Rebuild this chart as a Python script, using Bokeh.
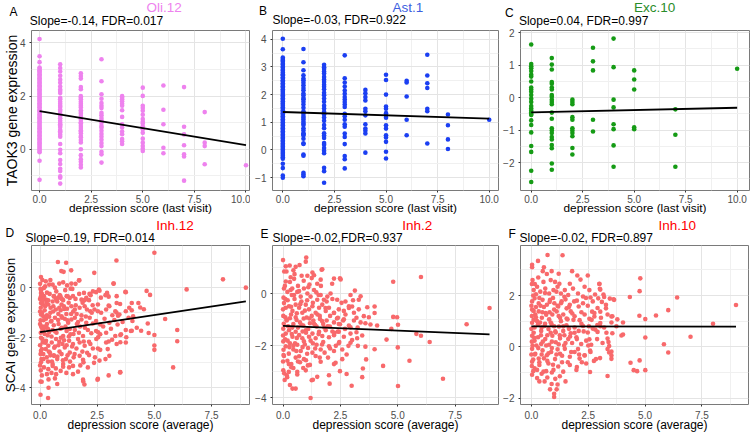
import math
from bokeh.plotting import figure
from bokeh.models import Range1d, FixedTicker, Title
from bokeh.layouts import column, row
from bokeh.embed import file_html
from bokeh.resources import INLINE

FONT = "Liberation Sans"

# ---------------- data ----------------
# Row 1: expression by depression score (last visit), grouped per integer score
oli_scores = [0, 1, 2, 3, 4, 5, 6, 7, 8, 10]
oli_expr = [
    [4.15, 3.5, 3.28, 3.08, 3.03, 2.97, 2.93, 2.88, 2.82, 2.78, 2.72, 2.67, 2.62, 2.57, 2.51, 2.47,
     2.41, 2.36, 2.31, 2.26, 2.2, 2.16, 2.1, 2.05, 2.0, 1.94, 1.89, 1.84, 1.79, 1.73, 1.68, 1.63,
     1.58, 1.52, 1.47, 1.42, 1.37, 1.31, 1.26, 1.21, 1.16, 1.1, 1.05, 1.0, 0.95, 0.89, 0.84, 0.79,
     0.74, 0.68, 0.63, 0.58, 0.53, 0.47, 0.42, 0.37, 0.31, 0.26, 0.21, 0.16, 0.1, 0.05, -0.01,
     -0.06, -0.11, -0.43, -1.15],
    [3.2, 3.06, 2.93, 2.77, 2.62, 2.5, 2.36, 2.25, 2.19, 2.12, 1.94, 1.88, 1.79, 1.71, 1.64, 1.59,
     1.5, 1.44, 1.34, 1.3, 1.25, 1.17, 1.07, 1.0, 0.94, 0.9, 0.84, 0.73, 0.68, 0.63, 0.55, 0.47,
     0.2, -0.02, -0.15, -0.4, -0.55, -0.73, -0.82, -1.02, -1.07, -1.29],
    [2.86, 2.76, 2.66, 2.34, 2.26, 2.0, 1.94, 1.88, 1.79, 1.71, 1.64, 1.57, 1.47, 1.4, 1.34, 1.25,
     1.17, 1.1, 1.02, 0.97, 0.88, 0.8, 0.72, 0.67, 0.6, 0.5, 0.45, 0.35, 0.26, 0.0, -0.22, -0.37,
     -0.47, -0.58, -0.68],
    [3.39, 2.56, 2.07, 1.9, 1.74, 1.64, 1.55, 1.37, 1.28, 1.18, 1.09, 1.0, 0.88, 0.81, 0.7, 0.58,
     0.47, 0.36, 0.24, 0.12, -0.09, -0.19, -0.5],
    [2.0, 1.94, 1.88, 1.81, 1.71, 1.64, 1.47, 1.22, 0.94, 0.82, 0.67, 0.57, 0.39, 0.3, 0.2],
    [2.32, 2.01, 1.64, 1.55, 1.45, 1.3, 1.14, 1.04, 0.97, 0.87, 0.75, 0.62, 0.4, 0.25, 0.12, 0.02, -0.06],
    [2.4, 1.49, 0.94, 0.06, -0.15],
    [2.34, 0.85, 0.56, 0.15, -0.19, -0.27, -1.18],
    [1.4, 0.25, 0.12, -0.56],
    [-0.6],
]
oli_fit_x = [0, 10]
oli_fit_y = [1.44, 0.16]

ast_scores = [0, 1, 2, 3, 4, 5, 6, 7, 8, 10]
ast_expr = [
    [4.02, 3.64, 3.34, 3.29, 3.23, 3.19, 3.12, 3.08, 3.01, 2.97, 2.9, 2.86, 2.8, 2.74, 2.7, 2.63,
     2.58, 2.52, 2.47, 2.41, 2.36, 2.3, 2.26, 2.19, 2.14, 2.09, 2.03, 1.98, 1.92, 1.87, 1.81, 1.76,
     1.7, 1.66, 1.6, 1.54, 1.49, 1.43, 1.38, 1.33, 1.27, 1.22, 1.16, 1.11, 1.05, 1.0, 0.94, 0.89,
     0.83, 0.78, 0.73, 0.67, 0.62, 0.56, 0.51, 0.45, 0.4, 0.34, 0.29, 0.23, 0.18, 0.12, 0.07, 0.01,
     -0.04, -0.1, -0.15, -0.21, -0.27, -0.32, -0.5, -0.66, -0.93, -1.01],
    [3.65, 3.17, 2.88, 2.7, 2.58, 2.52, 2.43, 2.34, 2.24, 2.16, 2.04, 1.98, 1.88, 1.83, 1.74, 1.64,
     1.52, 1.4, 1.32, 1.23, 1.16, 1.1, 1.02, 0.95, 0.9, 0.78, 0.7, 0.6, 0.57, 0.52, 0.4, 0.24, 0.21,
     -0.17, -0.21, -0.83, -0.89, -0.95],
    [3.08, 2.99, 2.93, 2.84, 2.76, 2.64, 2.55, 2.46, 2.36, 2.28, 2.19, 2.07, 1.98, 1.86, 1.74, 1.6,
     1.5, 1.38, 1.28, 1.17, 1.05, 0.9, 0.78, 0.6, 0.52, 0.43, 0.25, 0.19, 0.07, -0.03, -0.12,
     -0.65, -0.77, -1.19],
    [3.42, 2.59, 2.44, 2.29, 2.15, 2.03, 1.91, 1.82, 1.73, 1.64, 1.55, 1.31, 1.22, 1.09, 0.93, 0.84,
     0.59, 0.47, 0.21, -0.22, -0.34, -0.67],
    [2.17, 2.05, 1.91, 1.79, 1.49, 1.4, 1.25, 0.93, 0.77, 0.69, 0.59, -0.1],
    [2.72, 2.53, 2.0, 1.57, 1.49, 1.33, 1.25, 1.16, 0.89, 0.77, 0.53, 0.45, 0.29, -0.07, -0.31],
    [2.5, 2.44, 1.93, 1.09, 0.53],
    [3.44, 2.69, 2.41, 2.24, 1.49, 1.4, 0.23],
    [1.28, 0.89, 0.38, 0.03],
    [1.09],
]
ast_fit_x = [0, 10]
ast_fit_y = [1.37, 1.13]

exc_scores = [0, 1, 2, 3, 4, 5, 7, 10]
exc_expr = [
    [1.64, 1.04, 0.97, 0.91, 0.82, 0.71, 0.65, 0.5, 0.31, 0.25, 0.18, 0.08, -0.03, -0.13, -0.26,
     -0.33, -0.4, -0.46, -0.5, -0.53, -0.7, -0.84, -1.07, -1.49, -1.67, -2.25, -2.6],
    [1.22, 1.02, 0.87, 0.48, 0.43, 0.31, 0.25, 0.08, 0.03, -0.06, -0.13, -0.2, -0.46, -0.65, -0.94,
     -1.01, -1.09, -1.21, -1.29, -1.46, -1.56, -2.03, -2.22],
    [-0.06, -0.13, -0.2, -0.6, -0.68, -0.94, -1.01, -1.09, -1.19, -1.55, -1.75],
    [1.54, 1.12, 0.84, -0.68, -1.04],
    [1.82, 0.94, -0.06, -0.3, -0.82, -0.97, -1.47, -2.13],
    [0.84, 0.56, 0.25, -0.91, -0.97],
    [-0.36, -1.14, -2.13],
    [0.89],
]
exc_fit_x = [0, 10]
exc_fit_y = [-0.45, -0.31]

# Row 2: expression vs depression score (average), (score, expression) pairs
inh12_pts = [
    (5.0, 1.39), (3.34, 1.08), (0.78, 1.02), (1.14, 0.99), (1.36, 0.69), (1.03, 0.63), (0.93, 0.66),
    (0.04, 0.42), (8.0, 0.33), (9.0, 0.0), (6.41, -0.07), (4.66, -0.13), (4.81, -0.29), (3.22, 0.16),
    (2.37, 0.59), (1.72, 0.29), (3.73, -0.17), (3.0, -0.36), (2.93, -0.26), (4.01, -0.9), (4.38, -0.79),
    (4.54, -0.86), (3.41, -1.12), (3.34, -0.99), (4.71, -1.43), (5.47, -1.25), (6.0, -1.69), (6.0, -2.14),
    (5.0, -1.89), (5.0, -2.31), (5.0, -2.48), (4.75, -1.81), (4.42, -1.72), (4.01, -1.72), (3.77, -1.98),
    (3.51, -1.89), (3.51, -2.18), (3.0, -2.15), (2.54, -1.78), (2.54, -1.98), (5.82, -3.18), (3.51, -3.37),
    (3.0, -3.5), (2.51, -3.67), (1.94, -3.86), (1.89, -3.74), (0.37, -3.66), (0.37, -3.99), (0.02, -3.74),
    (0.02, -4.27), (0.35, -4.4),
    (0.22, 0.05), (0.17, -0.01), (0.4, 0.12), (0.55, 0.12), (0.84, 0.16), (1.01, 0.21), (1.18, 0.09),
    (1.37, 0.16), (1.55, 0.15), (1.7, 0.29), (1.34, -0.04), (2.31, -0.15), (1.92, -0.21), (2.21, -0.3),
    (2.57, -0.08), (2.45, -0.18), (2.93, -0.21), (2.86, -0.3), (3.21, 0.16), (2.6, -0.12),
    (0.04, -0.21), (0.04, -0.34), (0.17, -0.34), (0.26, -0.48), (0.36, -0.5), (0.61, -0.34), (0.69, -0.45),
    (0.79, -0.41), (0.89, -0.34), (1.01, -0.5), (1.16, -0.34), (1.3, -0.41), (1.44, -0.34), (1.55, -0.45),
    (1.81, -0.48), (1.95, -0.5), (2.02, -0.41), (2.14, -0.5), (2.53, -0.67), (3.0, -0.71), (3.35, -0.34),
    (3.35, -0.61), (3.5, -0.65), (3.75, -0.18), (4.01, -0.61), (4.3, -0.61),
    (0.04, -0.61), (0.12, -0.67), (0.22, -0.74), (0.36, -0.67), (0.46, -0.8), (0.58, -0.74), (0.69, -0.87),
    (0.84, -0.8), (0.94, -0.67), (1.04, -0.74), (1.18, -0.84), (1.37, -0.74), (1.52, -0.87), (1.73, -0.8),
    (1.95, -0.74), (2.05, -0.87), (2.2, -0.94), (2.38, -0.87), (2.53, -0.94), (2.67, -1.0), (2.89, -0.87),
    (3.03, -0.74), (3.29, -0.94), (3.47, -1.07), (3.75, -0.94), (3.9, -0.8), (4.07, -1.14),
    (0.04, -1.07), (0.14, -1.14), (0.26, -1.24), (0.4, -1.16), (0.5, -1.33), (0.65, -1.2), (0.79, -1.29),
    (0.94, -1.14), (1.08, -1.24), (1.23, -1.4), (1.37, -1.27), (1.52, -1.2), (1.66, -1.37), (1.81, -1.27),
    (2.02, -1.4), (2.17, -1.2), (2.31, -1.43), (2.45, -1.33), (2.63, -1.47), (2.82, -1.24), (3.03, -1.4),
    (3.25, -1.29), (3.39, -1.47), (3.61, -1.37), (3.87, -1.2), (4.04, -1.33),
    (0.04, -1.53), (0.14, -1.66), (0.29, -1.6), (0.4, -1.77), (0.55, -1.69), (0.72, -1.8), (0.9, -1.64),
    (1.01, -1.93), (1.16, -1.73), (1.33, -1.86), (1.52, -1.69), (1.7, -1.8), (1.88, -1.93), (2.09, -1.69),
    (2.24, -1.82), (2.45, -1.73), (2.63, -1.86), (2.89, -1.8), (3.1, -1.64), (3.29, -1.93), (3.54, -1.86),
    (3.75, -1.69), (3.97, -1.73), (4.23, -1.6),
    (0.04, -2.0), (0.12, -2.19), (0.26, -2.12), (0.36, -2.32), (0.51, -2.19), (0.65, -2.35), (0.84, -2.16),
    (0.98, -2.25), (1.08, -2.39), (1.27, -2.12), (1.44, -2.25), (1.59, -2.43), (1.73, -2.19), (1.95, -2.32),
    (2.14, -2.16), (2.31, -2.43), (2.53, -2.43), (2.63, -2.48), (2.89, -2.19), (3.15, -2.08), (3.35, -2.25),
    (3.75, -2.19),
    (0.04, -2.52), (0.14, -2.65), (0.29, -2.78), (0.43, -2.59), (0.61, -2.72), (0.75, -2.85), (0.94, -2.65),
    (1.13, -2.85), (1.3, -2.59), (1.47, -2.78), (1.73, -2.72), (1.88, -2.88), (2.14, -2.69), (2.4, -2.78),
    (2.6, -2.91), (2.86, -2.85), (3.03, -2.72),
    (0.04, -2.98), (0.17, -3.18), (0.36, -3.25), (0.55, -3.12), (0.69, -3.22), (0.9, -3.32), (1.01, -3.05),
    (1.27, -3.18), (1.44, -3.12), (1.66, -3.35), (1.9, -2.98), (2.09, -3.18), (1.01, -3.15),
    (0.07, -3.75), (0.65, -3.62), (0.75, -3.84), (1.44, -3.45), (1.88, -3.67), (2.53, -3.64), (3.5, -3.38),
    (0.0, 0.15), (0.02, -0.05), (0.0, -0.45), (0.03, -0.8), (0.0, -0.95), (0.02, -1.3), (0.0, -1.45),
    (0.03, -1.8), (0.0, -2.3), (0.02, -2.65), (0.0, -3.1), (0.03, -3.3), (0.08, -0.25), (0.09, -1.0),
    (0.1, -1.75), (0.08, -2.45), (0.1, -0.55), (0.07, -1.6), (0.1, -2.05), (0.06, -2.85),
    (0.2, -0.9), (0.3, -1.45), (0.45, -1.0), (0.5, -1.95), (0.6, -1.5), (0.7, -2.05), (0.8, -1.05),
    (0.85, -2.55), (0.95, -1.6), (1.05, -2.1), (1.15, -1.05), (1.2, -2.7), (1.25, -0.6), (1.3, -1.65),
    (1.4, -2.35), (1.45, -0.95), (0.25, -2.45), (0.35, -2.95), (0.55, -3.05), (0.6, -0.35), (0.3, -0.2),
    (0.75, -0.55), (0.95, -0.45), (1.1, -0.1), (0.2, -1.85), (0.45, -2.7), (1.6, -1.05), (1.75, -1.55),
    (1.85, -2.55), (2.0, -1.15), (2.2, -2.25), (2.3, -0.7),
    (0.05, -0.1), (0.12, -0.45), (0.18, -1.55), (0.24, -2.2), (0.28, -0.6), (0.33, -1.9), (0.38, -2.55),
    (0.42, -0.25), (0.47, -1.35), (0.52, -2.95), (0.57, -0.95), (0.62, -2.4), (0.66, -1.75), (0.71, -0.15),
    (0.76, -2.75), (0.81, -1.45), (0.86, -0.3), (0.91, -2.0), (0.96, -1.2), (1.0, -2.9), (1.06, -0.85),
    (1.11, -1.55), (1.16, -2.3), (1.21, -0.35), (1.26, -1.95), (1.31, -2.95), (1.36, -1.05), (1.41, -0.05),
    (1.46, -1.85), (1.51, -2.65), (1.56, -0.7), (1.61, -1.45), (1.66, -2.05), (1.71, -0.25), (1.76, -3.1),
    (1.81, -1.1), (1.86, -0.6), (1.91, -2.15), (1.96, -1.6), (2.06, -2.6), (2.16, -0.25), (2.26, -1.0),
    (2.36, -3.0), (2.46, -2.05), (2.66, -0.4), (2.76, -1.55), (2.96, -2.45), (3.16, -1.1), (0.08, -3.5),
    (0.15, -2.85), (0.3, -3.45), (0.5, -3.4), (0.7, -3.45), (0.1, 0.3), (0.25, 0.25), (0.45, 0.3),
    (0.65, 0.0), (0.3, -1.1), (0.55, -0.55), (0.8, -2.3), (0.15, -1.3), (0.35, -1.65), (0.6, -2.7),
    (0.9, -0.9), (1.2, -1.3), (1.15, -3.4),
]
inh12_fit_x = [0, 9]
inh12_fit_y = [-1.77, -0.55]

inh2_pts = [
    (0.0, 1.29), (1.01, 1.39), (0.99, 1.23), (2.51, 0.55), (4.8, 0.46), (6.01, 0.64), (4.97, -0.9),
    (5.01, -1.19), (8.0, -1.17), (9.0, -0.55), (5.81, -1.54), (6.01, -1.61), (6.39, -1.85), (4.51, -1.76),
    (5.0, -2.06), (4.36, -2.77), (5.51, -2.57), (6.97, -3.26), (5.01, -3.54), (3.62, -2.52), (3.48, -2.87),
    (3.45, -3.2), (2.99, -3.53), (2.77, -3.08), (2.48, -2.97), (2.29, -2.65), (2.03, -3.45), (1.2, -4.0),
    (1.25, -3.32), (3.38, -0.1), (3.67, -0.52), (3.99, -0.49), (3.99, -0.74), (3.74, -0.9), (3.52, -0.86),
    (3.2, -0.92), (3.01, -0.49), (2.87, -0.55), (2.65, -0.98), (2.94, -1.29), (3.01, -1.78), (2.94, -1.88),
    (3.26, -2.0), (3.59, -2.03), (3.99, -2.13), (4.72, -1.35), (4.8, -0.89), (3.2, -1.48), (2.39, -1.45),
    (2.48, -1.17), (2.39, -0.92), (2.22, -0.74), (2.72, -0.8), (3.13, 0.12), (1.68, 0.92), (2.22, 0.58),
    (0.29, 1.08), (0.55, 1.03), (0.81, 0.69), (1.28, 0.81), (1.35, 0.71), (1.64, 0.54), (1.49, 0.38),
    (2.14, 0.38), (2.48, 0.59), (1.71, 0.94), (1.06, 0.69), (0.33, 0.63), (0.12, 0.47), (0.48, 0.57),
    (0.04, 0.2), (0.19, 0.07), (0.33, 0.14), (0.48, -0.05), (0.62, 0.07), (0.77, -0.11), (0.91, 0.2),
    (1.06, 0.01), (1.2, -0.11), (1.35, 0.14), (1.49, -0.23), (1.64, -0.05), (1.78, -0.23), (1.93, -0.11),
    (2.07, 0.01), (2.36, -0.23), (2.72, -0.3), (2.94, -0.05), (3.3, -0.23),
    (0.04, -0.36), (0.12, -0.54), (0.26, -0.48), (0.41, -0.66), (0.55, -0.42), (0.7, -0.54), (0.84, -0.73),
    (0.99, -0.42), (1.13, -0.6), (1.28, -0.48), (1.42, -0.73), (1.57, -0.54), (1.71, -0.42), (1.86, -0.66),
    (2.0, -0.54), (2.22, -0.73), (2.43, -0.6), (2.65, -0.66), (2.87, -0.48), (3.09, -0.73), (3.3, -0.6),
    (0.01, -0.85), (0.16, -1.03), (0.3, -0.94), (0.45, -1.16), (0.59, -1.01), (0.74, -1.1), (0.88, -1.22),
    (1.03, -0.91), (1.17, -1.13), (1.32, -1.03), (1.46, -1.26), (1.61, -0.97), (1.75, -1.16), (1.9, -1.03),
    (2.04, -1.26), (2.22, -1.1), (2.43, -1.16), (2.62, -1.03), (2.87, -1.22), (3.09, -1.03), (3.38, -1.1),
    (3.59, -1.13), (3.81, -1.18), (4.1, -1.22),
    (0.01, -1.34), (0.12, -1.53), (0.26, -1.4), (0.41, -1.65), (0.55, -1.46), (0.7, -1.59), (0.84, -1.71),
    (0.99, -1.4), (1.13, -1.65), (1.28, -1.53), (1.42, -1.71), (1.57, -1.46), (1.71, -1.62), (1.86, -1.4),
    (2.0, -1.67), (2.22, -1.59), (2.43, -1.46), (2.65, -1.65), (2.94, -1.53), (3.23, -1.71),
    (0.01, -1.83), (0.12, -2.02), (0.3, -1.9), (0.45, -2.14), (0.62, -1.96), (0.77, -2.2), (0.91, -1.83),
    (1.09, -2.08), (1.28, -2.26), (1.46, -1.96), (1.64, -2.14), (1.81, -2.26), (2.0, -2.02), (2.22, -2.2),
    (2.43, -1.9), (2.58, -2.14), (2.77, -2.33),
    (0.04, -2.39), (0.19, -2.57), (0.36, -2.7), (0.55, -2.45), (0.74, -2.63), (0.91, -2.51), (1.17, -2.73),
    (1.42, -2.39), (1.64, -2.61), (1.96, -2.45), (2.22, -2.7), (2.58, -2.51),
    (0.01, -2.94), (0.16, -3.13), (0.36, -2.82), (0.62, -3.0), (0.99, -2.94), (1.49, -3.19), (2.0, -3.13),
    (0.07, -3.31), (0.3, -3.5), (0.41, -3.64), (0.55, -3.64),
    (0.02, -0.15), (0.0, -0.6), (0.03, -1.15), (0.0, -1.6), (0.02, -2.15), (0.0, -2.6), (0.08, 0.3),
    (0.1, -0.9), (0.09, -1.75), (0.2, -0.25), (0.22, -1.25), (0.25, -2.3), (0.35, -0.8), (0.38, -1.55),
    (0.4, 0.2), (0.5, -0.2), (0.52, -1.9), (0.6, -0.75), (0.65, -1.3), (0.7, -2.4), (0.8, -0.3),
    (0.85, -1.45), (0.9, -0.95), (0.95, -1.95), (1.05, -0.25), (1.1, -1.35), (1.15, 0.35), (1.25, -0.85),
    (1.3, -1.9), (1.4, -1.2), (1.55, -0.05), (1.6, -0.85), (1.7, -1.95), (1.8, -1.3), (1.9, -0.3),
    (2.05, -0.85), (2.15, -1.45), (2.3, -2.0), (0.15, 0.85), (0.65, 0.3), (0.45, -2.85), (0.25, -3.0),
    (1.0, -2.55), (1.3, -3.3),
    (0.05, 0.85), (0.1, -0.2), (0.15, -1.0), (0.2, -1.8), (0.25, -2.7), (0.3, 0.45), (0.35, -0.5),
    (0.4, -1.3), (0.45, -2.0), (0.5, 0.75), (0.55, -0.9), (0.6, -1.7), (0.65, -2.6), (0.7, 0.1),
    (0.75, -0.4), (0.8, -1.2), (0.85, -2.05), (0.9, 0.5), (0.95, -0.65), (1.0, -1.5), (1.05, -2.3),
    (1.1, 0.25), (1.15, -0.95), (1.2, -1.8), (1.25, 0.6), (1.3, -0.35), (1.35, -1.15), (1.4, -2.1),
    (1.45, 0.05), (1.5, -0.8), (1.55, -1.55), (1.6, -2.45), (1.65, 0.3), (1.7, -1.05), (1.75, -1.85),
    (1.85, -0.55), (1.95, -1.25), (2.05, -2.1), (2.15, -0.2), (2.25, -1.5), (2.35, -0.95), (2.45, -1.85),
    (2.55, -0.35), (2.7, -1.35), (2.85, -2.0), (3.05, -0.25), (3.25, -1.3), (3.45, -1.6), (0.02, -2.35),
    (0.05, -3.05), (0.12, 1.05), (0.18, -3.2), (0.28, -2.05), (0.45, 0.9), (0.62, -3.1), (0.72, 1.1),
    (0.88, -2.85), (1.08, -2.75), (0.58, -2.2), (0.38, -0.05),
]
inh2_fit_x = [0, 9]
inh2_fit_y = [-1.23, -1.56]

inh10_pts = [
    (9.0, 1.63), (7.99, 0.9), (7.0, 0.39), (6.41, 1.92), (6.02, 1.43), (5.48, 1.22), (5.01, 1.08),
    (5.01, 0.36), (5.83, 0.1), (6.02, -0.22), (5.01, -0.91), (4.65, -0.95), (4.5, -0.91), (4.76, -0.53),
    (4.36, -0.62), (4.33, 1.94), (4.76, 2.17), (4.79, 2.67), (4.75, 1.21), (4.03, 0.95), (4.03, 0.48),
    (3.96, 0.44), (3.74, 0.8), (3.61, 1.85), (3.52, 1.18), (3.52, 0.95), (3.52, -0.19), (3.52, -0.34),
    (3.52, -0.47), (3.35, -1.14),
    (2.99, 2.45), (3.01, 2.26), (3.2, 1.94), (2.6, 1.92), (2.67, 1.37), (2.77, 1.18), (3.03, 1.37),
    (3.03, 0.93), (3.03, 0.8), (2.81, 0.67), (2.53, 0.8), (2.55, 0.29), (2.58, -0.15), (2.58, -0.98),
    (2.34, -0.34), (2.22, -0.6), (2.05, -0.09), (2.0, -0.79), (3.02, -0.44), (3.35, 0.32), (3.39, 0.19),
    (3.35, -0.09), (3.42, -0.22), (3.28, 1.5), (3.45, 1.88),
    (0.71, 3.58), (1.37, 3.57), (0.03, 3.2), (0.03, 3.1), (0.29, 3.35), (0.89, 2.95), (0.68, 2.84),
    (1.79, 2.95), (2.02, 2.78), (2.48, 2.78), (2.16, 2.62), (0.53, 2.53), (1.04, 2.53), (1.23, 2.46),
    (1.69, 2.46), (2.99, 2.46), (3.03, 2.23), (3.64, 1.83), (2.55, 2.21), (2.34, 2.34), (2.8, 2.04),
    (3.17, 2.04), (2.94, 1.89),
    (0.1, 2.21), (0.25, 2.34), (0.39, 2.15), (0.61, 2.27), (0.78, 2.08), (0.97, 2.21), (1.15, 2.34),
    (1.3, 2.08), (1.47, 2.21), (1.62, 2.02), (1.83, 2.27), (2.05, 2.08), (2.27, 1.96),
    (0.03, 1.77), (0.14, 1.89), (0.32, 1.7), (0.49, 1.83), (0.68, 1.64), (0.82, 1.83), (1.01, 1.7),
    (1.18, 1.57), (1.33, 1.77), (1.5, 1.85), (1.69, 1.64), (1.88, 1.77), (2.08, 1.57), (2.27, 1.7),
    (2.48, 1.6), (2.7, 1.77), (2.91, 1.51), (3.28, 1.64),
    (0.03, 1.45), (0.17, 1.26), (0.32, 1.38), (0.46, 1.13), (0.63, 1.32), (0.78, 1.07), (0.92, 1.26),
    (1.11, 1.38), (1.26, 1.13), (1.4, 1.26), (1.59, 1.07), (1.73, 1.38), (1.9, 1.19), (2.12, 1.04),
    (2.34, 1.26), (2.55, 1.09), (2.77, 1.32), (3.06, 1.13), (3.35, 1.26), (3.56, 1.19), (3.78, 1.07),
    (0.03, 0.94), (0.14, 0.75), (0.29, 0.88), (0.43, 0.62), (0.58, 0.81), (0.75, 0.69), (0.89, 0.88),
    (1.07, 0.56), (1.21, 0.79), (1.4, 0.62), (1.54, 0.84), (1.73, 0.53), (1.9, 0.75), (2.08, 0.62),
    (2.27, 0.81), (2.48, 0.56), (2.7, 0.71), (2.91, 0.58), (3.2, 0.75), (3.56, 0.53),
    (0.03, 0.43), (0.14, 0.24), (0.29, 0.37), (0.43, 0.11), (0.61, 0.3), (0.78, 0.08), (0.92, 0.43),
    (1.07, 0.18), (1.26, 0.33), (1.44, 0.05), (1.62, 0.3), (1.79, 0.15), (1.98, 0.37), (2.19, 0.11),
    (2.41, 0.24), (2.63, 0.08), (2.89, 0.3), (3.13, 0.15), (3.42, 0.03),
    (0.03, -0.08), (0.17, -0.27), (0.32, -0.46), (0.49, -0.14), (0.68, -0.33), (0.87, -0.2), (1.04, -0.48),
    (1.26, -0.27), (1.47, -0.08), (1.69, -0.39), (1.9, -0.2), (2.12, -0.46), (2.34, -0.33), (2.6, -0.2),
    (2.84, -0.48),
    (0.03, -0.58), (0.14, -0.84), (0.35, -0.71), (0.53, -0.97), (0.75, -0.65), (0.97, -0.9), (1.18, -0.77),
    (1.4, -0.97), (1.69, -0.71), (1.98, -0.9), (2.41, -0.65),
    (0.03, -1.09), (0.25, -1.22), (0.58, -1.35), (0.89, -1.45), (1.15, -1.47), (0.82, -1.66), (1.11, -1.66),
    (1.0, -1.83), (1.0, -1.96), (1.5, -1.35),
    (0.0, 1.6), (0.02, 1.2), (0.0, 0.7), (0.02, 0.2), (0.0, -0.3), (0.02, -0.75), (0.08, 2.0), (0.1, 1.05),
    (0.1, 0.55), (0.08, -0.5), (0.2, 1.55), (0.22, 0.05), (0.25, -0.9), (0.35, 1.9), (0.38, 0.95),
    (0.42, 0.45), (0.45, -0.3), (0.55, 1.55), (0.6, 0.9), (0.65, 0.05), (0.7, -0.55), (0.8, 1.35),
    (0.85, 0.55), (0.9, -0.05), (0.95, 1.9), (1.0, 0.8), (1.1, -0.3), (1.15, 1.6), (1.2, 0.1), (1.3, 1.0),
    (1.35, -0.6), (1.45, 0.45), (1.55, 1.5), (1.65, 0.7), (1.75, -0.2), (1.85, 1.05), (2.0, 0.3),
    (2.2, 0.9), (0.15, 2.45), (0.5, 2.95), (0.45, -1.05), (0.7, -1.2), (0.9, -1.0), (1.25, -1.15),
    (0.05, 2.6), (0.1, 1.4), (0.12, 0.35), (0.15, -0.3), (0.2, 2.05), (0.25, 1.0), (0.3, -0.05),
    (0.35, -0.6), (0.4, 1.6), (0.45, 0.75), (0.5, 0.2), (0.55, -0.45), (0.6, 2.1), (0.65, 1.25),
    (0.7, 0.45), (0.75, -0.25), (0.8, 1.75), (0.85, 0.95), (0.9, 0.2), (0.95, -0.7), (1.0, 1.45),
    (1.05, 0.6), (1.1, 2.15), (1.15, -0.1), (1.2, 1.2), (1.25, 0.45), (1.3, 1.7), (1.35, -0.35),
    (1.4, 0.8), (1.45, 1.95), (1.5, 0.15), (1.55, 1.1), (1.6, -0.6), (1.65, 1.55), (1.7, 0.4),
    (1.8, 1.3), (1.9, 0.55), (2.0, 1.8), (2.1, -0.3), (2.2, 1.35), (2.3, 0.6), (2.4, 1.9), (2.5, 0.05),
    (2.65, 1.05), (2.75, -0.55), (2.9, 0.85), (3.1, 1.75), (3.3, 0.55), (0.02, 2.45), (0.05, 0.05),
    (0.08, -0.95), (0.3, 2.7), (0.55, 3.1), (0.85, 2.6), (1.2, 2.85), (0.35, -1.35), (0.65, -0.95),
    (1.05, -1.25), (0.2, 1.15), (0.48, 1.35),
]
inh10_fit_x = [0, 9]
inh10_fit_y = [0.8, 0.79]

# tick values and labels
last_ticks = [0, 2.5, 5, 7.5, 10]
last_minor = [1.25, 3.75, 6.25, 8.75]
last_labels = ["0.0", "2.5", "5.0", "7.5", "10.0"]
avg_ticks = [0, 2.5, 5, 7.5]
avg_minor = [1.25, 3.75, 6.25, 8.75]
avg_labels = ["0.0", "2.5", "5.0", "7.5"]

oli_yticks, oli_yminor = [0, 2, 4], [-1, 1, 3]
ast_yticks, ast_yminor = [-1, 0, 1, 2, 3, 4], [-0.5, 0.5, 1.5, 2.5, 3.5]
exc_yticks, exc_yminor = [-2, -1, 0, 1, 2], [-2.5, -1.5, -0.5, 0.5, 1.5]
inh12_yticks, inh12_yminor = [-4, -2, 0], [-3, -1, 1]
inh2_yticks, inh2_yminor = [-4, -2, 0], [-3, -1, 1]
inh10_yticks, inh10_yminor = [-2, 0, 2], [-1, 1, 3]


def expand(scores, groups):
    xs, ys = [], []
    for s, g in zip(scores, groups):
        xs += [s] * len(g)
        ys += list(g)
    return xs, ys


def unzip(pts):
    return [a for a, b in pts], [b for a, b in pts]


def make_panel(s):
    xs, ys = s["data"]
    xr, yr = s["xr"], s["yr"]
    bord = s["b"]
    p = figure(width=s["w"], height=s["h"], x_range=Range1d(xr[0], xr[1]), y_range=Range1d(yr[0], yr[1]),
               output_backend="svg", toolbar_location=None, title=None,
               min_border_left=bord[0], min_border_right=bord[1],
               min_border_top=bord[2], min_border_bottom=bord[3],
               background_fill_color="white", border_fill_color="white")
    p.outline_line_color = "#7a7a7a"
    p.outline_line_width = 1
    xtk = FixedTicker(ticks=s["xt"], minor_ticks=s["xmn"])
    ytk = FixedTicker(ticks=s["yt"], minor_ticks=s["ymn"])
    p.xaxis.ticker = xtk
    p.yaxis.ticker = ytk
    p.xgrid.ticker = xtk
    p.ygrid.ticker = ytk
    for g in (p.xgrid[0], p.ygrid[0]):
        g.grid_line_color = "#E4E4E4"
        g.grid_line_width = 1
        g.minor_grid_line_color = "#F0F0F0"
        g.minor_grid_line_width = 1
    p.xaxis.major_label_overrides = {float(t): l for t, l in zip(s["xt"], s["xl"])}
    for ax in (p.xaxis[0], p.yaxis[0]):
        ax.axis_line_color = None
        ax.major_tick_line_color = "#333333"
        ax.major_tick_out = 2
        ax.major_tick_in = 0
        ax.minor_tick_line_color = None
        ax.major_label_text_font = FONT
        ax.major_label_text_font_size = "10px"
        ax.major_label_text_color = "#4D4D4D"
        ax.axis_label_text_font = FONT
        ax.axis_label_text_font_style = "normal"
        ax.axis_label_text_color = "black"
    xo = s["xaxis"]
    p.xaxis.major_label_standoff = xo[1]
    p.yaxis.major_label_standoff = 2
    p.xaxis.axis_label = s["xtitle"]
    p.xaxis.axis_label_text_font_size = xo[0]
    p.xaxis.axis_label_standoff = xo[2]
    if s["ytitle"]:
        p.yaxis.axis_label = s["ytitle"][0]
        p.yaxis.axis_label_text_font_size = s["ytitle"][1]
        p.yaxis.axis_label_standoff = s["ytitle"][2]
    # marks
    p.scatter(xs, ys, size=4.6, fill_color=s["color"], line_color=None)
    p.line(s["fx"], s["fy"], line_color="black", line_width=1.8)
    # header texts, stacked outwards from the frame
    st, sdx, sso = s["stat"]
    lt, ldx, lso = s["letter"]
    ct, cc, cdx, cso = s["cell"]
    p.add_layout(Title(text=st, align="left", vertical_align="top", offset=sdx, standoff=sso,
                       text_font=FONT, text_font_size="12px", text_font_style="normal",
                       text_color="black"), "above")
    p.add_layout(Title(text=lt, align="left", vertical_align="bottom", offset=ldx, standoff=lso,
                       text_font=FONT, text_font_size="12px", text_font_style="normal",
                       text_color="black"), "above")
    p.add_layout(Title(text=ct, align="left", vertical_align="bottom", offset=cdx, standoff=cso,
                       text_font=FONT, text_font_size="13.5px", text_font_style="normal",
                       text_color=cc), "above")
    return p


row1_x = ("11.8px", 0, -5)
row2_x = ("12px", 2, -4)

specs = [
    dict(data=expand(oli_scores, oli_expr), color="#EE82EE", xr=(-0.39, 10.17), yr=(-1.55, 4.47),
         yt=oli_yticks, ymn=oli_yminor, xt=last_ticks, xmn=last_minor, xl=last_labels,
         fx=oli_fit_x, fy=oli_fit_y, w=250, h=217, b=(25, 1, 30, 25),
         stat=("Slope=-0.14, FDR=0.017", -1.7, 2.32), letter=("A", -22, -13.92),
         cell=("Oli.12", "#EE82EE", 115, -8.12), xaxis=row1_x,
         xtitle="depression score (last visit)", ytitle=("TAOK3 gene expression", "14px", -3)),
    dict(data=expand(ast_scores, ast_expr), color="#1B3FF2", xr=(-0.5, 10.45), yr=(-1.47, 4.32),
         yt=ast_yticks, ymn=ast_yminor, xt=last_ticks, xmn=last_minor, xl=last_labels,
         fx=ast_fit_x, fy=ast_fit_y, w=250, h=217, b=(22, 2, 30, 26),
         stat=("Slope=-0.03, FDR=0.922", 0, 1.52), letter=("B", -13.4, -11.92),
         cell=("Ast.1", "#3D5FE0", 120, -13.52), xaxis=row1_x,
         xtitle="depression score (last visit)", ytitle=None),
    dict(data=expand(exc_scores, exc_expr), color="#159B15", xr=(-0.52, 10.6), yr=(-2.86, 2.07),
         yt=exc_yticks, ymn=exc_yminor, xt=last_ticks, xmn=last_minor, xl=last_labels,
         fx=exc_fit_x, fy=exc_fit_y, w=250, h=217, b=(18, 1, 30, 25),
         stat=("Slope=0.04, FDR=0.997", -1.6, 0.92), letter=("C", -15.6, -13.72),
         cell=("Exc.10", "#2A8C2A", 113.4, -7.12), xaxis=row1_x,
         xtitle="depression score (last visit)", ytitle=None),
    dict(data=unzip(inh12_pts), color="#F8696B", xr=(-0.375, 9.16), yr=(-4.66, 1.68),
         yt=inh12_yticks, ymn=inh12_yminor, xt=avg_ticks, xmn=avg_minor, xl=avg_labels,
         fx=inh12_fit_x, fy=inh12_fit_y, w=250, h=217, b=(29, 1, 27, 28),
         stat=("Slope=0.19, FDR=0.014", -6, -3.08), letter=("D", -26, -15.4),
         cell=("Inh.12", "#FF0000", 124.7, -2.96), xaxis=row2_x,
         xtitle="depression score (average)", ytitle=("SCAI gene expression", "13.5px", -7)),
    dict(data=unzip(inh2_pts), color="#F8696B", xr=(-0.46, 9.39), yr=(-4.25, 1.85),
         yt=inh2_yticks, ymn=inh2_yminor, xt=avg_ticks, xmn=avg_minor, xl=avg_labels,
         fx=inh2_fit_x, fy=inh2_fit_y, w=250, h=217, b=(22, 2, 27, 27),
         stat=("Slope=-0.02,FDR=0.937", 0, -4.08), letter=("E", -12, -15.4),
         cell=("Inh.2", "#FF0000", 129.7, -1.56), xaxis=row2_x,
         xtitle="depression score (average)", ytitle=None),
    dict(data=unzip(inh10_pts), color="#F8696B", xr=(-0.48, 9.55), yr=(-2.25, 3.95),
         yt=inh10_yticks, ymn=inh10_yminor, xt=avg_ticks, xmn=avg_minor, xl=avg_labels,
         fx=inh10_fit_x, fy=inh10_fit_y, w=250, h=217, b=(17, 2, 27, 27),
         stat=("Slope=-0.02, FDR=0.897", -1, -4.08), letter=("F", -12, -15.4),
         cell=("Inh.10", "#FF0000", 138, -1.76), xaxis=row2_x,
         xtitle="depression score (average)", ytitle=None),
]

panels = [make_panel(s) for s in specs]

layout = column(row(panels[0], panels[1], panels[2], spacing=0),
                row(panels[3], panels[4], panels[5], spacing=0), spacing=0)

open("out.html", "w").write(file_html(layout, INLINE))
